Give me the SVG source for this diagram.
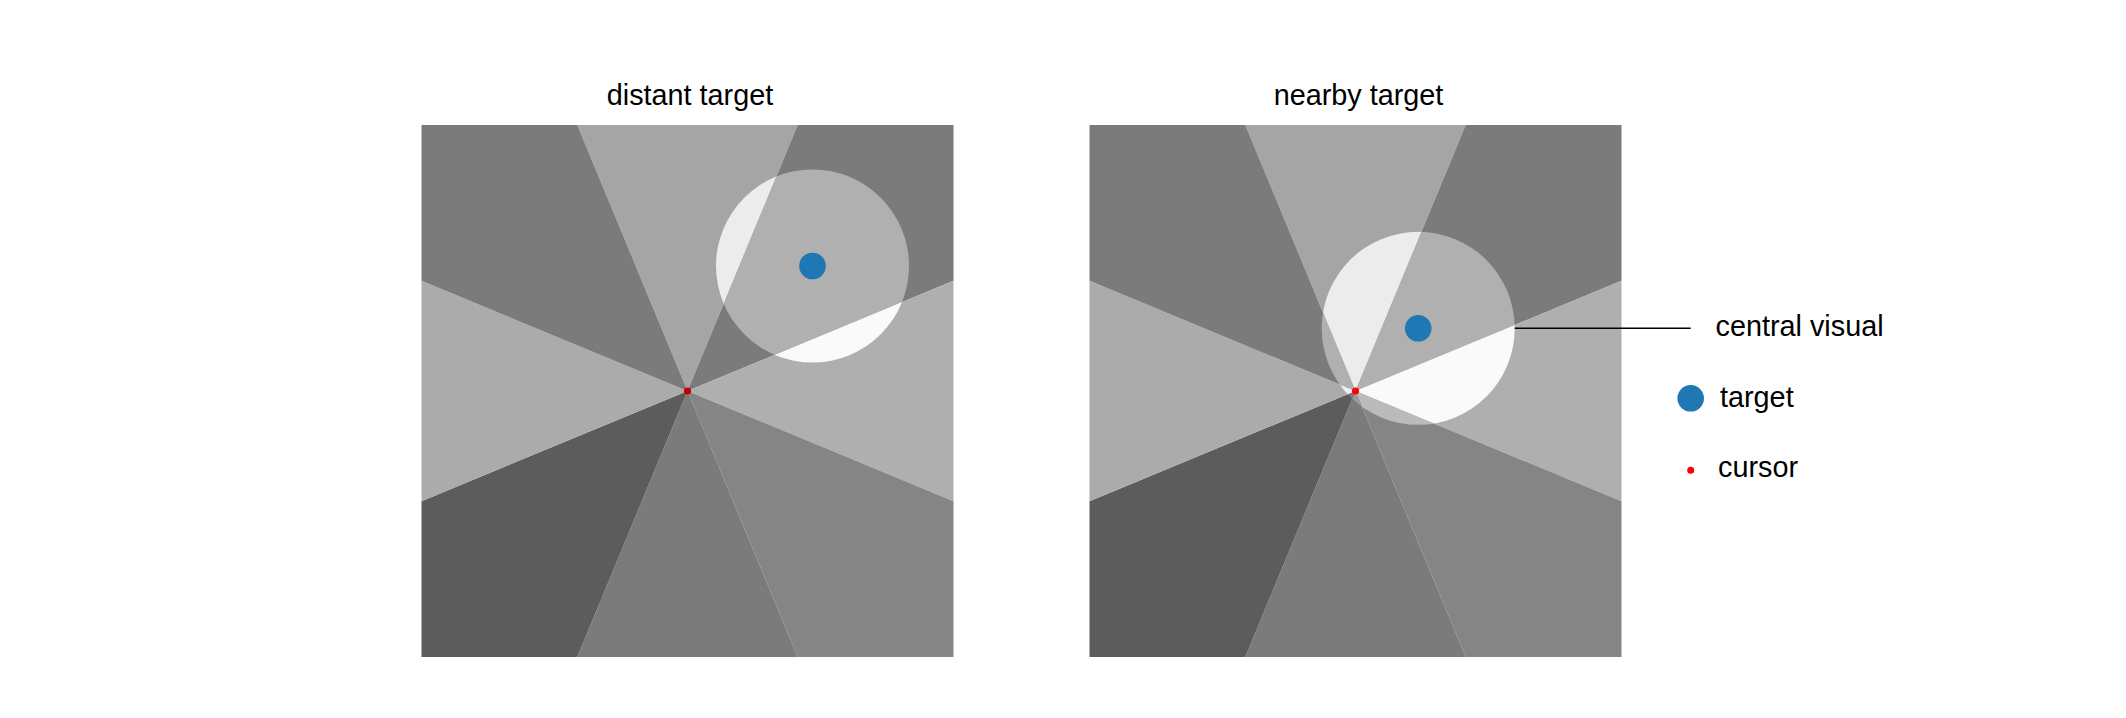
<svg xmlns="http://www.w3.org/2000/svg" width="2126" height="718" viewBox="0 0 2126 718">
<style>
  text{font-family:"Liberation Sans",Arial,Helvetica,sans-serif;font-size:28.8px;fill:#000}
  .title{text-anchor:middle}
  .target{fill:#1f77b4}
  .connector{stroke:#000;stroke-width:1.6;fill:none}
</style>
<defs>
  <g id="sectors">
    <polygon points="0,0 -110.2,-266 110.2,-266" fill="#a5a5a5"/>
    <polygon points="0,0 110.2,-266 266,-266 266,-110.2" fill="#7b7b7b"/>
    <polygon points="0,0 266,-110.2 266,110.2" fill="#afafaf"/>
    <polygon points="0,0 266,110.2 266,266 110.2,266" fill="#858585"/>
    <polygon points="0,0 110.2,266 -110.2,266" fill="#7b7b7b"/>
    <polygon points="0,0 -110.2,266 -266,266 -266,110.2" fill="#5c5c5c"/>
    <polygon points="0,0 -266,110.2 -266,-110.2" fill="#ababab"/>
    <polygon points="0,0 -266,-110.2 -266,-266 -110.2,-266" fill="#7b7b7b"/>
  </g>
  <g id="sectorsLight">
    <polygon points="0,0 -110.2,-266 110.2,-266" fill="#ececec"/>
    <polygon points="0,0 110.2,-266 266,-266 266,-110.2" fill="#b0b0b0"/>
    <polygon points="0,0 266,-110.2 266,110.2" fill="#fafafa"/>
    <polygon points="0,0 266,110.2 266,266 110.2,266" fill="#bbbbbb"/>
    <polygon points="0,0 110.2,266 -110.2,266" fill="#9a9a9a"/>
    <polygon points="0,0 -110.2,266 -266,266 -266,110.2" fill="#7a7a7a"/>
    <polygon points="0,0 -266,110.2 -266,-110.2" fill="#f0f0f0"/>
    <polygon points="0,0 -266,-110.2 -266,-266 -110.2,-266" fill="#b0b0b0"/>
  </g>
  <clipPath id="clipL"><circle cx="125" cy="-125" r="96.5"/></clipPath>
  <clipPath id="clipR"><circle cx="62.7" cy="-62.7" r="96.5"/></clipPath>
</defs>

<g id="panel-distant" transform="translate(687.5,391)">
  <use href="#sectors"/>
  <g clip-path="url(#clipL)"><use href="#sectorsLight"/></g>
  <circle class="target" cx="125" cy="-125" r="13.3"/>
  <circle cx="0" cy="0" r="3.6" fill="#c40000"/>
</g>
<text id="title-distant" class="title" x="690" y="105">distant target</text>

<g id="panel-nearby" transform="translate(1355.5,391)">
  <use href="#sectors"/>
  <g clip-path="url(#clipR)"><use href="#sectorsLight"/></g>
  <circle class="target" cx="62.7" cy="-62.7" r="13.3"/>
  <circle cx="0" cy="0" r="3.6" fill="#ff0000"/>
</g>
<text id="title-nearby" class="title" x="1358.5" y="105">nearby target</text>

<g id="connectors">
  <line class="connector" x1="1514.7" y1="328.3" x2="1690.7" y2="328.3"/>
</g>

<g id="legend-central">
  <text x="1715.5" y="335.5">central visual</text>
</g>
<g id="legend-target">
  <circle class="target" cx="1690.7" cy="398.3" r="13.3"/>
  <text x="1720" y="406.5">target</text>
</g>
<g id="legend-cursor">
  <circle cx="1690.7" cy="470.3" r="3.5" fill="#ff0000"/>
  <text x="1718" y="477.3">cursor</text>
</g>
</svg>
